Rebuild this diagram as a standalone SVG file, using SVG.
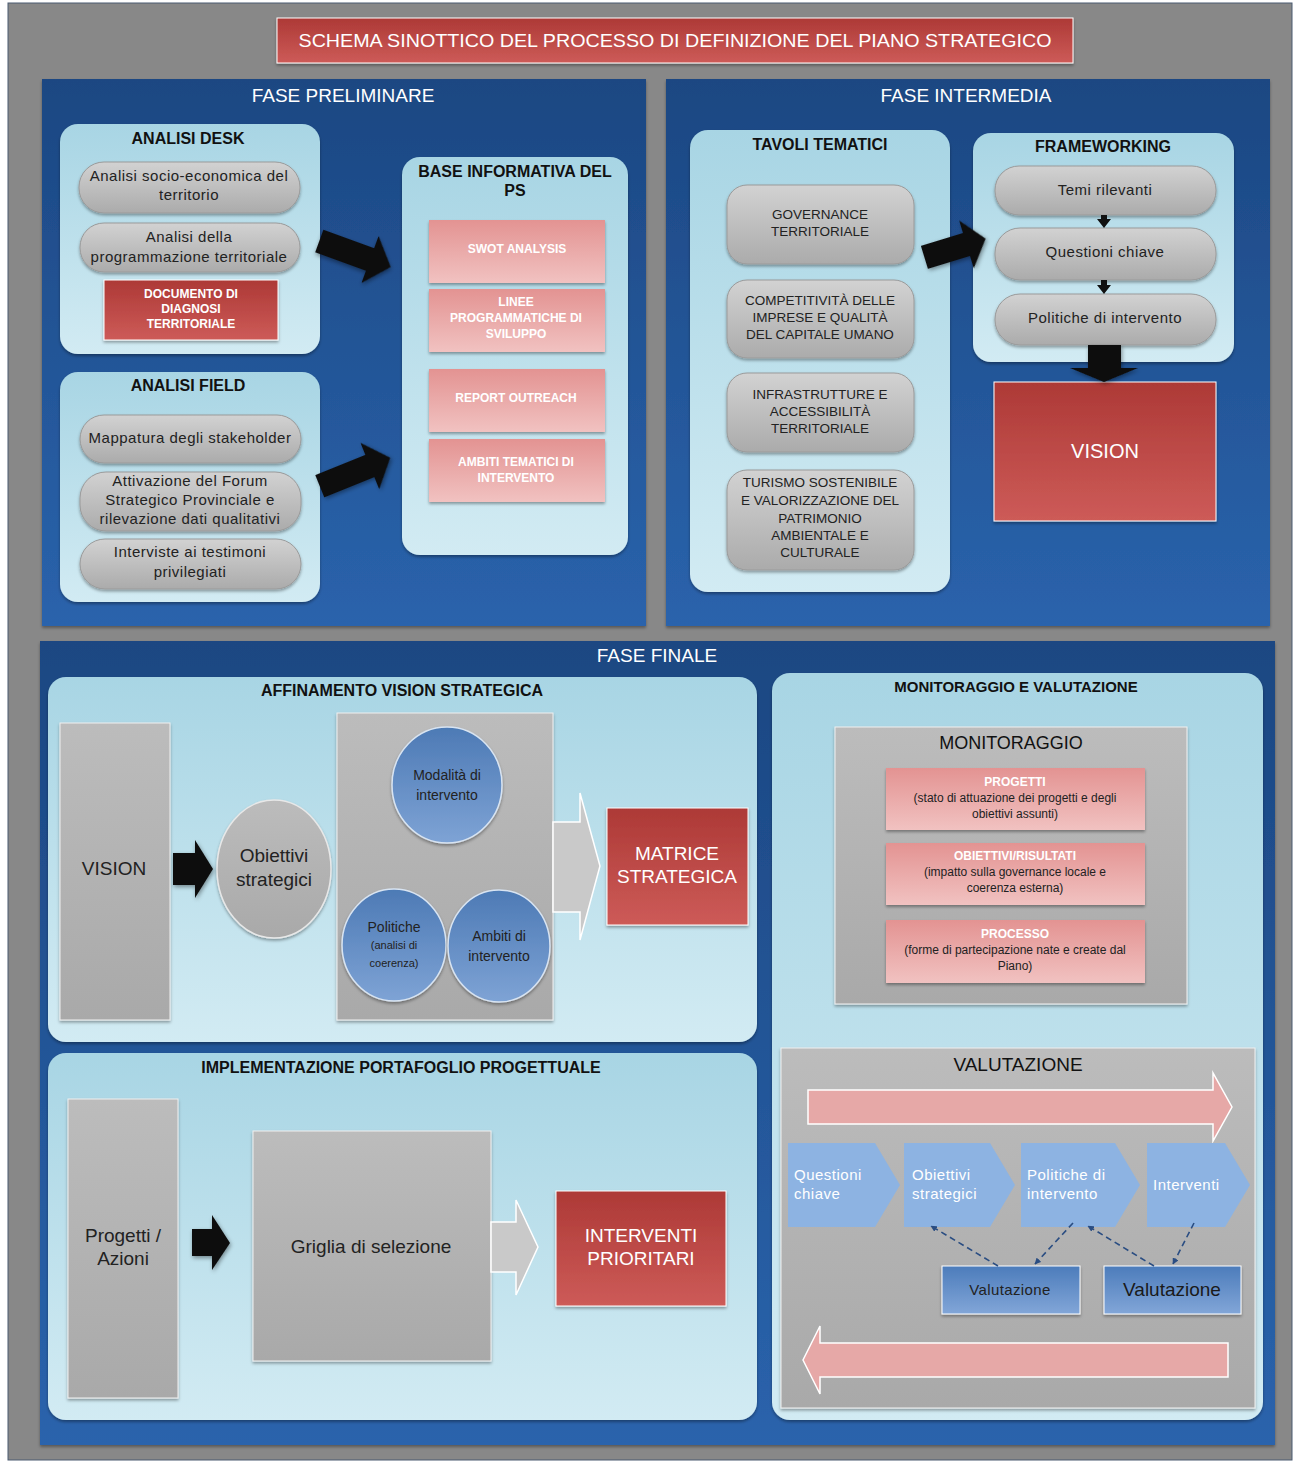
<svg xmlns="http://www.w3.org/2000/svg" width="1298" height="1463" viewBox="0 0 1298 1463">
<defs>
<linearGradient id="gBlue" x1="0" y1="0" x2="0" y2="1"><stop offset="0" stop-color="#1c4782"/><stop offset="1" stop-color="#2a63ac"/></linearGradient>
<linearGradient id="gLight" x1="0" y1="0" x2="0" y2="1"><stop offset="0" stop-color="#a8d5e4"/><stop offset="1" stop-color="#d2ebf3"/></linearGradient>
<linearGradient id="gPill" x1="0" y1="0" x2="0" y2="1"><stop offset="0" stop-color="#d2d2d2"/><stop offset="1" stop-color="#ababab"/></linearGradient>
<linearGradient id="gRed" x1="0" y1="0" x2="0" y2="1"><stop offset="0" stop-color="#ad3936"/><stop offset="1" stop-color="#cd5b58"/></linearGradient>
<linearGradient id="gPink" x1="0" y1="0" x2="0" y2="1"><stop offset="0" stop-color="#e39392"/><stop offset="1" stop-color="#f1c2c1"/></linearGradient>
<linearGradient id="gCircle" x1="0" y1="0" x2="0" y2="1"><stop offset="0" stop-color="#4d7ab5"/><stop offset="1" stop-color="#7ea3d5"/></linearGradient>
<linearGradient id="gVal" x1="0" y1="0" x2="0" y2="1"><stop offset="0" stop-color="#4c7cbb"/><stop offset="1" stop-color="#82a6d8"/></linearGradient>
<linearGradient id="gGray" x1="0" y1="0" x2="0" y2="1"><stop offset="0" stop-color="#bcbcbc"/><stop offset="1" stop-color="#a9a9a9"/></linearGradient>
<filter id="sh" x="-10%" y="-10%" width="120%" height="125%"><feDropShadow dx="0" dy="2" stdDeviation="1.5" flood-color="#000" flood-opacity="0.35"/></filter>
<filter id="shA" x="-20%" y="-20%" width="140%" height="140%"><feDropShadow dx="1" dy="2" stdDeviation="2" flood-color="#000" flood-opacity="0.4"/></filter>
<marker id="mh" viewBox="0 0 10 10" refX="9" refY="5" markerWidth="4" markerHeight="4" orient="auto"><path d="M0,0 L10,5 L0,10 z" fill="#2a4d82"/></marker>
<style>
text{font-family:"Liberation Sans",Arial,sans-serif}
.ph{fill:#fff;font-size:19px}
.hd{fill:#111;font-size:16px;font-weight:bold}
.pl{fill:#222;font-size:15px;letter-spacing:0.5px}
.tv{fill:#222;font-size:13.5px}
.pk{fill:#fff;font-size:12px;font-weight:bold}
.mn{fill:#222;font-size:12px}
.big{fill:#222;font-size:19px}
.rw{fill:#fff;font-size:20px}
.cw{fill:#fff;font-size:15px;letter-spacing:0.5px}
.panel{fill:url(#gBlue)}
.box{fill:url(#gLight);filter:url(#sh)}
.pill{fill:url(#gPill);stroke:#9a9a9a;stroke-width:1;filter:url(#sh)}
.red{fill:url(#gRed);stroke:#fff;stroke-width:1;filter:url(#sh)}
.pink{fill:url(#gPink);filter:url(#sh)}
.gray{fill:url(#gGray);stroke:#f0f0f0;stroke-width:1;filter:url(#sh)}
.circ{fill:url(#gCircle);stroke:#d8e4f2;stroke-width:1.5;filter:url(#sh)}
.blk{fill:#111;filter:url(#shA)}
.larr{fill:#c9c9c9;stroke:#fff;stroke-width:1.5}
.parr{fill:#e6a8a7;stroke:#fff;stroke-width:1.5}
.chev{fill:#8db3e2}
.val{fill:url(#gVal);stroke:#fff;stroke-width:1;filter:url(#sh)}
.dash{stroke:#2a4d82;stroke-width:1.6;stroke-dasharray:6 4;fill:none;marker-end:url(#mh)}
</style>
</defs>

<rect x="0" y="0" width="1298" height="1463" fill="#fff"/>
<rect x="8" y="3" width="1284" height="1457" fill="#888" stroke="#4a5a70" stroke-width="1"/>

<g id="title">
<rect x="277" y="18" width="796" height="45" class="red"/>
<text x="675" y="47" text-anchor="middle" class="ph" textLength="753" lengthAdjust="spacingAndGlyphs">SCHEMA SINOTTICO DEL PROCESSO DI DEFINIZIONE DEL PIANO STRATEGICO</text>
</g>

<!-- Panels -->
<g id="fase-preliminare">
<rect x="42" y="79" width="604" height="547" class="panel" filter="url(#sh)"/>
<text x="343" y="102" text-anchor="middle" class="ph">FASE PRELIMINARE</text>
</g>
<g id="fase-intermedia">
<rect x="666" y="79" width="604" height="547" class="panel" filter="url(#sh)"/>
<text x="966" y="102" text-anchor="middle" class="ph">FASE INTERMEDIA</text>
</g>
<g id="fase-finale">
<rect x="40" y="641" width="1235" height="804" class="panel" filter="url(#sh)"/>
<text x="657" y="662" text-anchor="middle" class="ph">FASE FINALE</text>
</g>

<!-- Analisi desk -->
<g id="analisi-desk">
<rect x="60" y="124" width="260" height="230" rx="18" class="box"/>
<text x="188" y="144" text-anchor="middle" class="hd">ANALISI DESK</text>
</g>
<g id="socio-economica">
<rect x="79" y="162" width="221" height="51" rx="25" class="pill"/>
<text x="189" y="181" text-anchor="middle" class="pl">Analisi socio-economica del</text>
<text x="189" y="200" text-anchor="middle" class="pl">territorio</text>
</g>
<g id="programmazione">
<rect x="80" y="223" width="220" height="49" rx="24" class="pill"/>
<text x="189" y="242" text-anchor="middle" class="pl">Analisi della</text>
<text x="189" y="262" text-anchor="middle" class="pl">programmazione territoriale</text>
</g>
<g id="documento">
<rect x="104" y="280" width="174" height="60" class="red"/>
<text x="191" y="298" text-anchor="middle" class="pk">DOCUMENTO DI</text>
<text x="191" y="313" text-anchor="middle" class="pk">DIAGNOSI</text>
<text x="191" y="328" text-anchor="middle" class="pk">TERRITORIALE</text>
</g>

<!-- Analisi field -->
<g id="analisi-field">
<rect x="60" y="372" width="260" height="230" rx="18" class="box"/>
<text x="188" y="391" text-anchor="middle" class="hd">ANALISI FIELD</text>
</g>
<g id="mappatura">
<rect x="80" y="415" width="221" height="48" rx="24" class="pill"/>
<text x="190" y="443" text-anchor="middle" class="pl">Mappatura degli stakeholder</text>
</g>
<g id="forum">
<rect x="80" y="472" width="221" height="59" rx="26" class="pill"/>
<text x="190" y="486" text-anchor="middle" class="pl">Attivazione del Forum</text>
<text x="190" y="505" text-anchor="middle" class="pl">Strategico Provinciale e</text>
<text x="190" y="524" text-anchor="middle" class="pl">rilevazione dati qualitativi</text>
</g>
<g id="interviste">
<rect x="80" y="539" width="221" height="50" rx="25" class="pill"/>
<text x="190" y="557" text-anchor="middle" class="pl">Interviste ai testimoni</text>
<text x="190" y="577" text-anchor="middle" class="pl">privilegiati</text>
</g>

<!-- Base informativa -->
<g id="base-informativa">
<rect x="402" y="157" width="226" height="398" rx="18" class="box"/>
<text x="515" y="177" text-anchor="middle" class="hd">BASE INFORMATIVA DEL</text>
<text x="515" y="196" text-anchor="middle" class="hd">PS</text>
</g>
<g id="swot">
<rect x="429" y="220" width="176" height="63" class="pink"/>
<text x="517" y="253" text-anchor="middle" class="pk">SWOT ANALYSIS</text>
</g>
<g id="linee">
<rect x="429" y="289" width="176" height="63" class="pink"/>
<text x="516" y="306" text-anchor="middle" class="pk">LINEE</text>
<text x="516" y="322" text-anchor="middle" class="pk">PROGRAMMATICHE DI</text>
<text x="516" y="338" text-anchor="middle" class="pk">SVILUPPO</text>
</g>
<g id="report">
<rect x="429" y="369" width="176" height="63" class="pink"/>
<text x="516" y="402" text-anchor="middle" class="pk">REPORT OUTREACH</text>
</g>
<g id="ambiti-tematici">
<rect x="429" y="439" width="176" height="63" class="pink"/>
<text x="516" y="466" text-anchor="middle" class="pk">AMBITI TEMATICI DI</text>
<text x="516" y="482" text-anchor="middle" class="pk">INTERVENTO</text>
</g>

<!-- Tavoli tematici -->
<g id="tavoli-tematici">
<rect x="690" y="130" width="260" height="462" rx="18" class="box"/>
<text x="820" y="150" text-anchor="middle" class="hd">TAVOLI TEMATICI</text>
</g>
<g id="governance">
<rect x="727" y="185" width="187" height="79" rx="20" class="pill"/>
<text x="820" y="219" text-anchor="middle" class="tv">GOVERNANCE</text>
<text x="820" y="236" text-anchor="middle" class="tv">TERRITORIALE</text>
</g>
<g id="competitivita">
<rect x="727" y="280" width="187" height="78" rx="20" class="pill"/>
<text x="820" y="305" text-anchor="middle" class="tv">COMPETITIVITÀ DELLE</text>
<text x="820" y="322" text-anchor="middle" class="tv">IMPRESE E QUALITÀ</text>
<text x="820" y="339" text-anchor="middle" class="tv">DEL CAPITALE UMANO</text>
</g>
<g id="infrastrutture">
<rect x="727" y="373" width="187" height="79" rx="20" class="pill"/>
<text x="820" y="399" text-anchor="middle" class="tv">INFRASTRUTTURE E</text>
<text x="820" y="416" text-anchor="middle" class="tv">ACCESSIBILITÀ</text>
<text x="820" y="433" text-anchor="middle" class="tv">TERRITORIALE</text>
</g>
<g id="turismo">
<rect x="727" y="470" width="187" height="100" rx="20" class="pill"/>
<text x="820" y="487" text-anchor="middle" class="tv">TURISMO SOSTENIBILE</text>
<text x="820" y="505" text-anchor="middle" class="tv">E VALORIZZAZIONE DEL</text>
<text x="820" y="523" text-anchor="middle" class="tv">PATRIMONIO</text>
<text x="820" y="540" text-anchor="middle" class="tv">AMBIENTALE E</text>
<text x="820" y="557" text-anchor="middle" class="tv">CULTURALE</text>
</g>

<!-- Frameworking -->
<g id="frameworking">
<rect x="973" y="133" width="261" height="229" rx="18" class="box"/>
<text x="1103" y="152" text-anchor="middle" class="hd">FRAMEWORKING</text>
</g>
<g id="temi">
<rect x="995" y="166" width="221" height="49" rx="24" class="pill"/>
<text x="1105" y="195" text-anchor="middle" class="pl">Temi rilevanti</text>
</g>
<g id="questioni">
<rect x="995" y="228" width="221" height="52" rx="25" class="pill"/>
<text x="1105" y="257" text-anchor="middle" class="pl">Questioni chiave</text>
</g>
<g id="politiche-fw">
<rect x="995" y="294" width="221" height="51" rx="25" class="pill"/>
<text x="1105" y="323" text-anchor="middle" class="pl">Politiche di intervento</text>
</g>
<g id="vision-int">
<rect x="994" y="382" width="222" height="139" class="red"/>
<text x="1105" y="458" text-anchor="middle" class="rw">VISION</text>
</g>

<!-- Affinamento -->
<g id="affinamento">
<rect x="48" y="677" width="709" height="365" rx="18" class="box"/>
<text x="402" y="696" text-anchor="middle" class="hd">AFFINAMENTO VISION STRATEGICA</text>
</g>
<g id="vision-fin">
<rect x="60" y="723" width="110" height="297" class="gray"/>
<text x="114" y="875" text-anchor="middle" class="big">VISION</text>
</g>
<g id="obiettivi">
<ellipse cx="274" cy="869" rx="57" ry="69" fill="url(#gGray)" stroke="#e8e8e8" stroke-width="1.5" filter="url(#sh)"/>
<text x="274" y="862" text-anchor="middle" class="big">Obiettivi</text>
<text x="274" y="886" text-anchor="middle" class="big">strategici</text>
</g>
<g id="gruppo-politiche">
<rect x="337" y="713" width="216" height="307" class="gray"/>
</g>
<g id="modalita">
<ellipse cx="447" cy="785" rx="55" ry="58" class="circ"/>
<text x="447" y="780" text-anchor="middle" class="tv" style="font-size:14px">Modalità di</text>
<text x="447" y="800" text-anchor="middle" class="tv" style="font-size:14px">intervento</text>
</g>
<g id="politiche-circ">
<ellipse cx="394" cy="945" rx="52" ry="56" class="circ"/>
<text x="394" y="932" text-anchor="middle" class="tv" style="font-size:14px">Politiche</text>
<text x="394" y="949" text-anchor="middle" class="mn" style="font-size:11px">(analisi di</text>
<text x="394" y="967" text-anchor="middle" class="mn" style="font-size:11px">coerenza)</text>
</g>
<g id="ambiti-circ">
<ellipse cx="499" cy="946" rx="51" ry="56" class="circ"/>
<text x="499" y="941" text-anchor="middle" class="tv" style="font-size:14px">Ambiti di</text>
<text x="499" y="961" text-anchor="middle" class="tv" style="font-size:14px">intervento</text>
</g>
<g id="matrice">
<rect x="607" y="808" width="141" height="117" class="red"/>
<text x="677" y="860" text-anchor="middle" class="rw" style="font-size:19px">MATRICE</text>
<text x="677" y="883" text-anchor="middle" class="rw" style="font-size:19px">STRATEGICA</text>
</g>

<!-- Implementazione -->
<g id="implementazione">
<rect x="48" y="1053" width="709" height="367" rx="18" class="box"/>
<text x="401" y="1073" text-anchor="middle" class="hd">IMPLEMENTAZIONE PORTAFOGLIO PROGETTUALE</text>
</g>
<g id="progetti">
<rect x="68" y="1099" width="110" height="299" class="gray"/>
<text x="123" y="1242" text-anchor="middle" class="big">Progetti /</text>
<text x="123" y="1265" text-anchor="middle" class="big">Azioni</text>
</g>
<g id="griglia">
<rect x="253" y="1131" width="238" height="230" class="gray"/>
<text x="371" y="1253" text-anchor="middle" class="big">Griglia di selezione</text>
</g>
<g id="interventi-prioritari">
<rect x="556" y="1191" width="170" height="115" class="red"/>
<text x="641" y="1242" text-anchor="middle" class="rw" style="font-size:19px">INTERVENTI</text>
<text x="641" y="1265" text-anchor="middle" class="rw" style="font-size:19px">PRIORITARI</text>
</g>

<!-- Monitoraggio e valutazione -->
<g id="monval">
<rect x="772" y="673" width="491" height="747" rx="18" class="box"/>
<text x="1016" y="692" text-anchor="middle" class="hd" style="font-size:15px">MONITORAGGIO E VALUTAZIONE</text>
</g>
<g id="monitoraggio">
<rect x="835" y="727" width="352" height="277" class="gray"/>
<text x="1011" y="749" text-anchor="middle" class="big" style="font-size:18px;fill:#111">MONITORAGGIO</text>
</g>
<g id="m-progetti">
<rect x="886" y="768" width="259" height="62" class="pink"/>
<text x="1015" y="786" text-anchor="middle" class="pk">PROGETTI</text>
<text x="1015" y="802" text-anchor="middle" class="mn">(stato di attuazione dei progetti e degli</text>
<text x="1015" y="818" text-anchor="middle" class="mn">obiettivi assunti)</text>
</g>
<g id="m-obiettivi">
<rect x="886" y="843" width="259" height="62" class="pink"/>
<text x="1015" y="860" text-anchor="middle" class="pk">OBIETTIVI/RISULTATI</text>
<text x="1015" y="876" text-anchor="middle" class="mn">(impatto sulla governance locale e</text>
<text x="1015" y="892" text-anchor="middle" class="mn">coerenza esterna)</text>
</g>
<g id="m-processo">
<rect x="886" y="920" width="259" height="63" class="pink"/>
<text x="1015" y="938" text-anchor="middle" class="pk">PROCESSO</text>
<text x="1015" y="954" text-anchor="middle" class="mn">(forme di partecipazione nate e create dal</text>
<text x="1015" y="970" text-anchor="middle" class="mn">Piano)</text>
</g>

<g id="valutazione">
<rect x="781" y="1048" width="474" height="360" class="gray"/>
<text x="1018" y="1071" text-anchor="middle" class="big" style="fill:#111">VALUTAZIONE</text>
<path d="M808,1090 L1213,1090 L1213,1073 L1232,1107 L1213,1141 L1213,1124 L808,1124 Z" class="parr"/>
<path d="M1228,1343 L820,1343 L820,1326 L803,1360 L820,1394 L820,1377 L1228,1377 Z" class="parr"/>
</g>
<g id="c-questioni">
<path d="M788,1143 L875,1143 L900,1185 L875,1227 L788,1227 Z" class="chev"/>
<text x="794" y="1180" class="cw">Questioni</text>
<text x="794" y="1199" class="cw">chiave</text>
</g>
<g id="c-obiettivi">
<path d="M904,1143 L990,1143 L1015,1185 L990,1227 L904,1227 Z" class="chev"/>
<text x="912" y="1180" class="cw">Obiettivi</text>
<text x="912" y="1199" class="cw">strategici</text>
</g>
<g id="c-politiche">
<path d="M1021,1143 L1115,1143 L1140,1185 L1115,1227 L1021,1227 Z" class="chev"/>
<text x="1027" y="1180" class="cw">Politiche di</text>
<text x="1027" y="1199" class="cw">intervento</text>
</g>
<g id="c-interventi">
<path d="M1147,1143 L1225,1143 L1250,1185 L1225,1227 L1147,1227 Z" class="chev"/>
<text x="1153" y="1190" class="cw">Interventi</text>
</g>
<g id="val1">
<rect x="942" y="1266" width="138" height="48" class="val"/>
<text x="1010" y="1295" text-anchor="middle" class="tv" style="font-size:15px;letter-spacing:0.4px">Valutazione</text>
</g>
<g id="val2">
<rect x="1104" y="1266" width="137" height="48" class="val"/>
<text x="1172" y="1296" text-anchor="middle" class="big" style="fill:#1a1a1a">Valutazione</text>
</g>

<!-- Connectors -->
<g id="connectors">
<path transform="translate(355,254) rotate(20)" d="M-38,-12 L16,-12 L16,-25 L38,0 L16,25 L16,12 L-38,12 Z" class="blk"/>
<path transform="translate(355,472) rotate(-22)" d="M-38,-12 L16,-12 L16,-25 L38,0 L16,25 L16,12 L-38,12 Z" class="blk"/>
<path transform="translate(955,248) rotate(-17)" d="M-32,-12 L12,-12 L12,-25 L32,0 L12,25 L12,12 L-32,12 Z" class="blk"/>
<path d="M1101,215 L1107,215 L1107,219 L1111,219 L1104,228 L1097,219 L1101,219 Z" fill="#111"/>
<path d="M1101,280 L1107,280 L1107,285 L1111,285 L1104,294 L1097,285 L1101,285 Z" fill="#111"/>
<path d="M1088,345 L1121,345 L1121,368 L1138,368 L1104,382 L1070,368 L1088,368 Z" class="blk"/>
<path d="M173,853 L195,853 L195,840 L213,869 L195,898 L195,885 L173,885 Z" class="blk"/>
<path d="M553,822 L580,822 L580,793 L600,866 L580,940 L580,912 L553,912 Z" class="larr"/>
<path d="M192,1229 L212,1229 L212,1215 L230,1243 L212,1270 L212,1256 L192,1256 Z" class="blk"/>
<path d="M491,1222 L516,1222 L516,1200 L538,1247 L516,1295 L516,1272 L491,1272 Z" class="larr"/>
<line x1="998" y1="1266" x2="931" y2="1226" class="dash"/>
<line x1="1073" y1="1223" x2="1035" y2="1264" class="dash"/>
<line x1="1154" y1="1266" x2="1088" y2="1226" class="dash"/>
<line x1="1194" y1="1223" x2="1173" y2="1264" class="dash"/>
</g>
</svg>
